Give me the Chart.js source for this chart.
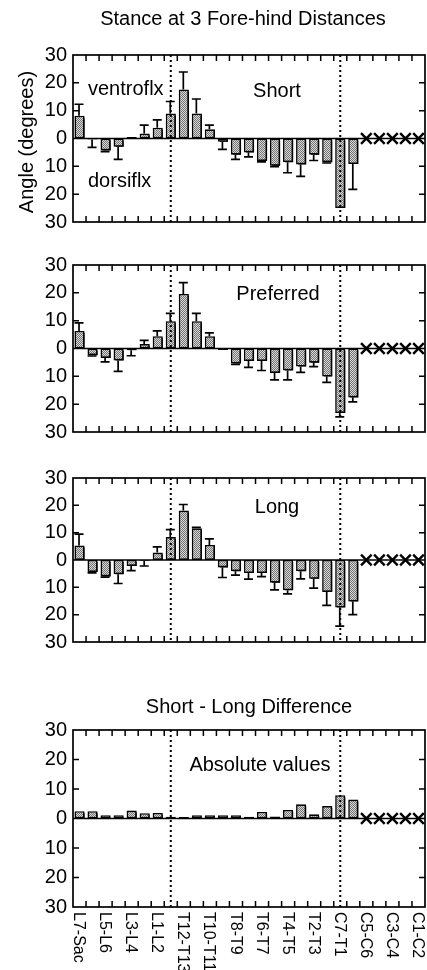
<!DOCTYPE html>
<html>
<head>
<meta charset="utf-8">
<script src="https://cdn.jsdelivr.net/npm/chart.js@4.4.1/dist/chart.umd.min.js"></script>
<style>
  body { margin: 0; background: #fff; }
  #wrap { position: relative; width: 427px; height: 970px; overflow: hidden; }
  #wrap canvas { position: absolute; left: 0; }
</style>
</head>
<body>
<div id="wrap">
  <canvas id="short" width="427" height="240" style="top:0px"></canvas>
  <canvas id="pref" width="427" height="205" style="top:245px"></canvas>
  <canvas id="long" width="427" height="200" style="top:460px"></canvas>
  <canvas id="diff" width="427" height="280" style="top:690px"></canvas>
</div>
<script>
// vertebral joints, caudal -> cranial
const categories = ["L7-Sac", "L6-L7", "L5-L6", "L4-L5", "L3-L4", "L2-L3", "L1-L2", "T13-L1",
  "T12-T13", "T11-T12", "T10-T11", "T9-T10", "T8-T9", "T7-T8", "T6-T7", "T5-T6", "T4-T5",
  "T3-T4", "T2-T3", "T1-T2", "C7-T1", "C6-C7", "C5-C6", "C4-C5", "C3-C4", "C2-C3", "C1-C2"];
const xTickLabels = ["L7-Sac", "L5-L6", "L3-L4", "L1-L2", "T12-T13", "T10-T11", "T8-T9",
  "T6-T7", "T4-T5", "T2-T3", "C7-T1", "C5-C6", "C3-C4", "C1-C2"];
const missing = ["C5-C6", "C4-C5", "C3-C4", "C2-C3", "C1-C2"];
const junctions = ["T13-L1", "C7-T1"];
const yTicks = [-30, -20, -10, 0, 10, 20, 30];

// + = ventroflexion, - = dorsiflexion (degrees)
const shortVals = [8.2, -0.4, -4.3, -3.0, 0.5, 1.8, 3.9, 9.0, 17.6, 9.0, 3.3, -1.2, -5.8, -5.0,
  -8.1, -9.8, -8.5, -9.3, -5.8, -8.5, -25.0, -9.2];
const shortErr = [4.1, 2.8, 0.4, 4.5, 0, 3.0, 2.8, 4.3, 6.3, 5.2, 1.5, 2.7, 1.7, 1.6,
  0.3, 0.3, 3.8, 4.3, 2.1, 0.3, 0, 9.1];
const prefVals = [6.3, -2.4, -3.4, -4.3, -0.6, 1.6, 4.4, 9.8, 19.6, 9.8, 4.4, -0.5, -5.4, -4.5,
  -4.5, -8.8, -7.9, -6.5, -5.1, -10.1, -23.2, -17.6];
const prefErr = [2.9, 0.3, 1.4, 3.9, 2.0, 1.3, 1.9, 2.8, 4.1, 2.8, 1.2, 0, 0.3, 2.3,
  3.4, 2.5, 3.4, 2.1, 1.4, 2.1, 1.4, 1.6];
const longVals = [5.3, -4.4, -6.0, -5.2, -2.2, -0.3, 2.7, 8.4, 18.1, 11.6, 5.5, -2.7, -4.1, -4.8,
  -4.8, -8.3, -11.1, -4.1, -6.9, -11.7, -17.4, -15.2];
const longErr = [4.2, 0.3, 0.3, 3.4, 1.7, 1.9, 2.1, 2.7, 2.2, 0.3, 2.2, 3.7, 1.4, 2.2,
  1.3, 2.6, 1.3, 2.8, 3.4, 4.9, 6.8, 4.8];
const diffVals = [2.5, 2.5, 1.1, 1.1, 2.7, 1.8, 1.9, 0.6, 0.5, 1.1, 1.1, 1.1, 1.1, 0.6,
  2.2, 0.7, 2.9, 4.8, 1.4, 4.2, 7.9, 6.4];

const FONT = '"Liberation Sans", Arial, Helvetica, sans-serif';
Chart.defaults.font.family = FONT;
Chart.defaults.color = "#000";

// stippled grey fill
const pc = document.createElement("canvas");
pc.width = 2;
pc.height = 2;
const pctx = pc.getContext("2d");
pctx.fillStyle = "#d8d8d8";
pctx.fillRect(0, 0, 2, 2);
pctx.fillStyle = "#747474";
pctx.fillRect(0, 0, 1, 1);
pctx.fillRect(1, 1, 1, 1);
const stipple = pctx.createPattern(pc, "repeat");

const framePlugin = {
  id: "frame",
  beforeDatasetDraw(chart, args) {
    if (args.index !== 0) return;
    const ctx = chart.ctx;
    ctx.save();
    ctx.shadowColor = "#000";
    ctx.shadowOffsetX = 2;
    ctx.shadowOffsetY = 2;
    ctx.shadowBlur = 0;
  },
  afterDatasetDraw(chart, args) {
    if (args.index === 0) chart.ctx.restore();
  },
  afterDatasetsDraw(chart, args, opts) {
    // error bars
    const err = opts.err;
    if (!err) return;
    const ctx = chart.ctx;
    const y = chart.scales.y;
    const vals = chart.data.datasets[0].data;
    const meta = chart.getDatasetMeta(0);
    ctx.save();
    ctx.strokeStyle = "#000";
    ctx.lineWidth = 1.7;
    meta.data.forEach((bar, i) => {
      if (!err[i]) return;
      const v = vals[i];
      const end = y.getPixelForValue(v + (v >= 0 ? err[i] : -err[i]));
      ctx.beginPath();
      ctx.moveTo(bar.x - 0.5, bar.y);
      ctx.lineTo(bar.x - 0.5, end);
      ctx.moveTo(bar.x - 5, end);
      ctx.lineTo(bar.x + 4, end);
      ctx.stroke();
    });
    ctx.restore();
  },
  afterDraw(chart, args, opts) {
    const ctx = chart.ctx;
    const { left, right, top, bottom } = chart.chartArea;
    const x = chart.scales.x;
    const y = chart.scales.y;
    ctx.save();
    ctx.strokeStyle = "#000";

    // zero line
    ctx.lineWidth = 1.7;
    ctx.beginPath();
    ctx.moveTo(left, y.getPixelForValue(0));
    ctx.lineTo(right, y.getPixelForValue(0));
    ctx.stroke();

    // inward tick marks
    ctx.lineWidth = 1.5;
    ctx.beginPath();
    for (let i = 1; i < categories.length; i++) {
      const px = (x.getPixelForValue(i - 1) + x.getPixelForValue(i)) / 2;
      ctx.moveTo(px, top);
      ctx.lineTo(px, top + 6);
      ctx.moveTo(px, bottom);
      ctx.lineTo(px, bottom - 6);
    }
    yTicks.forEach((v) => {
      if (v === 0 || Math.abs(v) === 30) return;
      const py = y.getPixelForValue(v);
      ctx.moveTo(left, py);
      ctx.lineTo(left + 6, py);
      ctx.moveTo(right, py);
      ctx.lineTo(right - 6, py);
    });
    ctx.stroke();

    // box
    ctx.lineWidth = 1.7;
    ctx.strokeRect(left, top, right - left, bottom - top);

    // dotted junction lines
    ctx.lineWidth = 2;
    ctx.setLineDash([2, 3]);
    junctions.forEach((j) => {
      const px = x.getPixelForValue(categories.indexOf(j));
      ctx.beginPath();
      ctx.moveTo(px, top);
      ctx.lineTo(px, bottom);
      ctx.stroke();
    });
    ctx.setLineDash([]);

    // texts
    ctx.fillStyle = "#000";
    (opts.texts || []).forEach((t) => {
      ctx.save();
      ctx.font = (t.size || 20) + "px " + FONT;
      ctx.translate(t.x, t.y - opts.top);
      if (t.rot) ctx.rotate(t.rot);
      ctx.textAlign = t.align || "center";
      ctx.textBaseline = t.base || "alphabetic";
      ctx.fillText(t.t, 0, 0);
      ctx.restore();
    });

    // rotated category labels (read top to bottom)
    if (opts.xlabels) {
      ctx.font = "16px " + FONT;
      ctx.textAlign = "left";
      ctx.textBaseline = "middle";
      xTickLabels.forEach((lab) => {
        const px = x.getPixelForValue(categories.indexOf(lab));
        ctx.save();
        ctx.translate(px - 1, bottom + 5);
        ctx.rotate(Math.PI / 2);
        ctx.fillText(lab, 0, 0);
        ctx.restore();
      });
    }
    ctx.restore();
  },
};

const makePanel = (id, vals, err, padTop, padBottom, canvasTop, texts, xlabels) => {
  const ctx = document.getElementById(id).getContext("2d");
  return new Chart(ctx, {
    type: "bar",
    data: {
      labels: categories,
      datasets: [
        {
          data: vals,
          backgroundColor: stipple,
          borderColor: "#000",
          borderWidth: 1.6,
          borderSkipped: false,
          barPercentage: 0.78,
          categoryPercentage: 1,
        },
        {
          type: "line",
          data: categories.map((c) => (missing.includes(c) ? 0 : null)),
          showLine: false,
          pointStyle: "crossRot",
          pointRadius: 7.5,
          pointBorderWidth: 2.4,
          borderColor: "#000",
          backgroundColor: "#000",
        },
      ],
    },
    options: {
      responsive: false,
      animation: false,
      devicePixelRatio: 1,
      layout: { autoPadding: false, padding: { top: padTop, bottom: 0, left: 0, right: 2 } },
      plugins: {
        legend: { display: false },
        tooltip: { enabled: false },
        frame: { err: err, texts: texts, top: canvasTop, xlabels: xlabels },
      },
      scales: {
        x: {
          type: "category",
          offset: true,
          grid: { display: false },
          border: { display: false },
          ticks: { display: false },
          afterFit: (s) => {
            s.height = padBottom;
          },
        },
        y: {
          min: -30,
          max: 30,
          afterBuildTicks: (s) => {
            s.ticks = yTicks.map((v) => ({ value: v }));
          },
          grid: { display: false, drawTicks: false },
          border: { display: false },
          ticks: {
            padding: 6,
            font: { size: 20 },
            color: "#000",
            callback: (v) => Math.abs(v),
          },
          afterFit: (s) => {
            s.width = 73;
          },
        },
      },
    },
    plugins: [framePlugin],
  });
};

makePanel("short", shortVals, shortErr, 55, 9, 0, [
  { t: "Stance at 3 Fore-hind Distances", x: 243, y: 25 },
  { t: "Angle (degrees)", x: 27, y: 142, rot: -Math.PI / 2, base: "middle" },
  { t: "ventroflx", x: 88, y: 95, align: "left" },
  { t: "dorsiflx", x: 88, y: 187, align: "left" },
  { t: "Short", x: 277, y: 97 },
], false);

makePanel("pref", prefVals, prefErr, 20, 8, 245, [
  { t: "Preferred", x: 278, y: 300 },
], false);

makePanel("long", longVals, longErr, 17, 7, 460, [
  { t: "Long", x: 277, y: 513 },
], false);

makePanel("diff", diffVals, null, 40, 63, 690, [
  { t: "Short - Long Difference", x: 249, y: 713 },
  { t: "Absolute values", x: 260, y: 771 },
], true);
</script>
</body>
</html>
